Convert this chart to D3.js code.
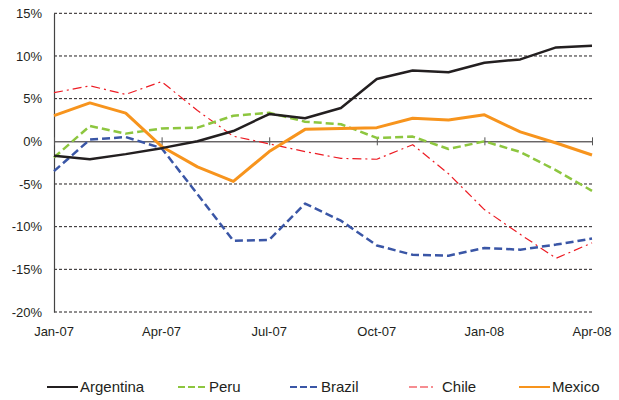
<!DOCTYPE html>
<html>
  <head>
    <meta charset="utf-8">
    <title>Latin America - year on year</title>
    <script src="https://cdn.jsdelivr.net/npm/d3@7/dist/d3.min.js"></script>
    <style>
      body { margin: 0; background: #fff; }
      svg { display: block; font-family: "Liberation Sans", Arial, sans-serif; }
      .tickLabel { font-size: 13px; fill: #231f20; }
      .legendText { font-size: 15px; fill: #231f20; }
      .grid { stroke: #231f20; stroke-width: 1; stroke-dasharray: 3,2; }
    </style>
  </head>

  <body>
    <svg id="chart" width="619" height="400"></svg>

    <script>
      // data, % change
      months = ["Jan-07", "Feb-07", "Mar-07", "Apr-07", "May-07", "Jun-07", "Jul-07", "Aug-07",
        "Sep-07", "Oct-07", "Nov-07", "Dec-07", "Jan-08", "Feb-08", "Mar-08", "Apr-08"];
      tickMonths = ["Jan-07", "Apr-07", "Jul-07", "Oct-07", "Jan-08", "Apr-08"];
      yTicks = [-20, -15, -10, -5, 0, 5, 10, 15];

      argentina = [-1.7, -2.1, -1.5, -0.8, 0.0, 1.2, 3.2, 2.7, 3.9, 7.3, 8.3, 8.1, 9.2, 9.6, 11.0, 11.2];
      peru = [-1.9, 1.8, 0.9, 1.5, 1.6, 3.0, 3.35, 2.3, 2.0, 0.4, 0.55, -0.9, 0.0, -1.25, -3.4, -5.8];
      brazil = [-3.5, 0.2, 0.5, -0.8, -6.2, -11.65, -11.55, -7.3, -9.3, -12.2, -13.3, -13.4, -12.5, -12.7, -12.1, -11.4];
      chile = [5.7, 6.5, 5.5, 7.0, 3.6, 0.6, -0.3, -1.2, -2.0, -2.1, -0.4, -3.8, -8.0, -10.9, -13.7, -11.9];
      mexico = [3.0, 4.5, 3.3, -0.6, -3.0, -4.7, -1.2, 1.4, 1.5, 1.6, 2.7, 2.5, 3.1, 1.1, -0.2, -1.6];

      seriesNames = ["Argentina", "Peru", "Brazil", "Chile", "Mexico"];
      seriesValues = [argentina, peru, brazil, chile, mexico];

      // styles
      styles = {
        Argentina: { color: "#231f20", width: 2.5, dash: null },
        Peru: { color: "#8dc63f", width: 2.5, dash: "8,4" },
        Brazil: { color: "#3a56a6", width: 2.5, dash: "8,4" },
        Chile: { color: "#ed1c24", width: 1.2, dash: "9,4,2,4" },
        Mexico: { color: "#f7941d", width: 3, dash: null }
      };

      chart = d3.select("#chart");
      margin = { top: 13.3, right: 27, bottom: 88, left: 54 };
      width = 619;
      height = 400;

      x = d3.scalePoint()
        .domain(months)
        .range([margin.left, width - margin.right]);
      y = d3.scaleLinear()
        .domain([-20, 15])
        .range([height - margin.bottom, margin.top]);

      // gridlines
      chart.append("g")
        .selectAll("line")
          .data(yTicks.filter(function(d) { return d != 0; }))
        .enter().append("line")
          .attr("class", "grid")
          .attr("x1", margin.left)
          .attr("x2", width - margin.right)
          .attr("y1", function(d) { return y(d); })
          .attr("y2", function(d) { return y(d); });

      // y axis
      yAxis = d3.axisLeft(y)
        .tickValues(yTicks)
        .tickSize(0)
        .tickPadding(12)
        .tickFormat(function(d) { return d + "%"; });
      yAxisGroup = chart.append("g")
        .attr("transform", "translate(" + margin.left + ",0)")
        .call(yAxis);
      yAxisGroup.select(".domain").attr("stroke", "#444").attr("stroke-width", 1.2);
      yAxisGroup.selectAll("text")
        .attr("class", "tickLabel")
        .attr("font-family", null)
        .attr("font-size", null);

      // zero line with quarterly ticks
      xAxis = d3.axisBottom(x)
        .tickValues(tickMonths)
        .tickSizeInner(4)
        .tickSizeOuter(0)
        .tickFormat("");
      xAxisGroup = chart.append("g")
        .attr("transform", "translate(0," + y(0) + ")")
        .call(xAxis);
      xAxisGroup.select(".domain").attr("stroke", "#231f20");
      xAxisGroup.selectAll(".tick line")
        .attr("y1", -4)
        .attr("y2", 4)
        .attr("stroke", "#555");

      // month labels along the bottom
      chart.append("g")
        .selectAll("text")
          .data(tickMonths)
        .enter().append("text")
          .attr("class", "tickLabel")
          .attr("x", function(d) { return x(d); })
          .attr("y", 336)
          .attr("text-anchor", "middle")
          .text(function(d) { return d; });

      // lines
      line = d3.line()
        .x(function(d, i) { return x(months[i]); })
        .y(function(d) { return y(d); });

      drawOrder = ["Chile", "Brazil", "Peru", "Mexico", "Argentina"];
      chart.append("g")
        .selectAll("path")
          .data(drawOrder)
        .enter().append("path")
          .attr("d", function(d) { return line(seriesValues[seriesNames.indexOf(d)]); })
          .attr("fill", "none")
          .attr("stroke", function(d) { return styles[d].color; })
          .attr("stroke-width", function(d) { return styles[d].width; })
          .attr("stroke-dasharray", function(d) { return styles[d].dash; })
          .attr("stroke-linejoin", "round");

      // legend
      legendX = [47, 178, 290, 409, 519];
      legendY = 387;
      legend = chart.append("g")
        .selectAll("g")
          .data(seriesNames)
        .enter().append("g")
          .attr("transform", function(d, i) { return "translate(" + legendX[i] + "," + legendY + ")"; });
      legend.append("line")
        .attr("x1", 0)
        .attr("x2", function(d) { return d == "Peru" || d == "Brazil" ? 27 : 31; })
        .attr("stroke", function(d) { return styles[d].color; })
        .attr("stroke-width", function(d) { return Math.min(styles[d].width, 2); })
        .attr("stroke-dasharray", function(d) {
          return d == "Peru" || d == "Brazil" ? "7,3" : d == "Chile" ? "8,3,8,3,2" : null;
        });
      legend.append("text")
        .attr("class", "legendText")
        .attr("x", function(d) { return d == "Peru" || d == "Brazil" ? 31 : 33; })
        .attr("dy", "0.36em")
        .text(function(d) { return d; });
    </script>
  </body>
</html>
